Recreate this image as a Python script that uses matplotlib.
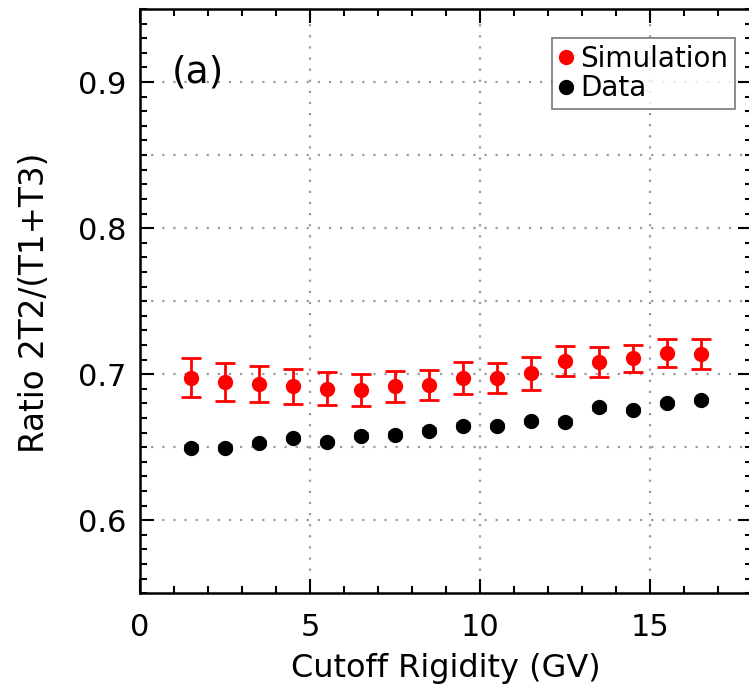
import matplotlib
matplotlib.use("Agg")
import matplotlib.pyplot as plt
from matplotlib.ticker import MultipleLocator

rigidity = [1.5, 2.5, 3.5, 4.5, 5.5, 6.5, 7.5, 8.5, 9.5, 10.5, 11.5, 12.5, 13.5, 14.5, 15.5, 16.5]
sim_ratio = [0.6977, 0.6948, 0.6932, 0.6916, 0.6902, 0.6891, 0.6916, 0.6925,
             0.6973, 0.6977, 0.7005, 0.7091, 0.7086, 0.7109, 0.7148, 0.7136]
sim_err = [0.0136, 0.0130, 0.0125, 0.0118, 0.0115, 0.0110, 0.0107, 0.0104,
           0.0108, 0.0103, 0.0110, 0.0102, 0.0103, 0.0094, 0.0096, 0.0102]
data_ratio = [0.6497, 0.6497, 0.6531, 0.6563, 0.6535, 0.6580, 0.6587, 0.6614,
              0.6648, 0.6644, 0.6678, 0.6676, 0.6773, 0.6755, 0.6801, 0.6823]
data_err = [0.0015] * 16
x_ticks = [0, 5, 10, 15]
y_ticks = [0.6, 0.7, 0.8, 0.9]
y_grid = [0.6, 0.65, 0.7, 0.75, 0.8, 0.85, 0.9]

W, H = 749, 697
fig = plt.figure(figsize=(W / 100, H / 100), dpi=100)
ax = fig.add_axes([140 / W, (H - 593.3) / H, 612 / W, 584.3 / H])

ax.set_xlim(0, 18)
ax.set_ylim(0.55, 0.95)

# grid
for gx in [5, 10, 15]:
    ax.axvline(gx, color="#9a9a9a", lw=1.6, ls=(0, (1, 4)), zorder=0)
for gy in y_grid:
    ax.axhline(gy, color="#9a9a9a", lw=1.6, ls=(0, (1, 4)), zorder=0)

ax.errorbar(rigidity, sim_ratio, yerr=sim_err, fmt="o", color="red", ms=10,
            elinewidth=2, capsize=7, capthick=2, zorder=3)
ax.errorbar(rigidity, data_ratio, yerr=data_err, fmt="o", color="black", ms=10,
            elinewidth=2, capsize=5, capthick=2, zorder=3)

ax.xaxis.set_minor_locator(MultipleLocator(1))
ax.yaxis.set_minor_locator(MultipleLocator(0.01))
ax.set_xticks(x_ticks)
ax.set_yticks(y_ticks)
ax.set_yticklabels([f"{v:.1f}" for v in y_ticks])
ax.tick_params(which="both", direction="in", top=True, right=True, width=1.5)
ax.tick_params(which="major", length=10, labelsize=22)
ax.tick_params(which="minor", length=5)
ax.tick_params(axis="x", which="major", pad=14)
ax.tick_params(axis="y", which="major", pad=10)
for s in ax.spines.values():
    s.set_linewidth(1.8)

ax.set_xlabel("Cutoff Rigidity (GV)", fontsize=23)
ax.set_ylabel("Ratio 2T2/(T1+T3)", fontsize=23.5)
ax.xaxis.set_label_coords(0.5, (593.3 - 668) / 584.3)
ax.xaxis.label.set_va("center")
ax.yaxis.set_label_coords((35 - 140) / 612, (593.3 - 303) / 584.3)
ax.yaxis.label.set_va("center")

ax.text((172 - 140) / 612, (593.3 - 73) / 584.3, "(a)", transform=ax.transAxes,
        fontsize=27, va="center", ha="left")

leg = ax.legend(handles=[plt.Line2D([], [], marker="o", ls="", color="red", ms=10),
                         plt.Line2D([], [], marker="o", ls="", color="black", ms=10)],
                labels=["Simulation", "Data"], loc="upper right",
                bbox_to_anchor=(595 / 612, (593.3 - 38) / 584.3), fontsize=20, frameon=True,
                fancybox=False, edgecolor="#555555", handlelength=0.5, handletextpad=0.25,
                borderpad=0.25, labelspacing=0.05, borderaxespad=0)
leg.get_frame().set_linewidth(1.2)

fig.savefig("out.png", dpi=100)
